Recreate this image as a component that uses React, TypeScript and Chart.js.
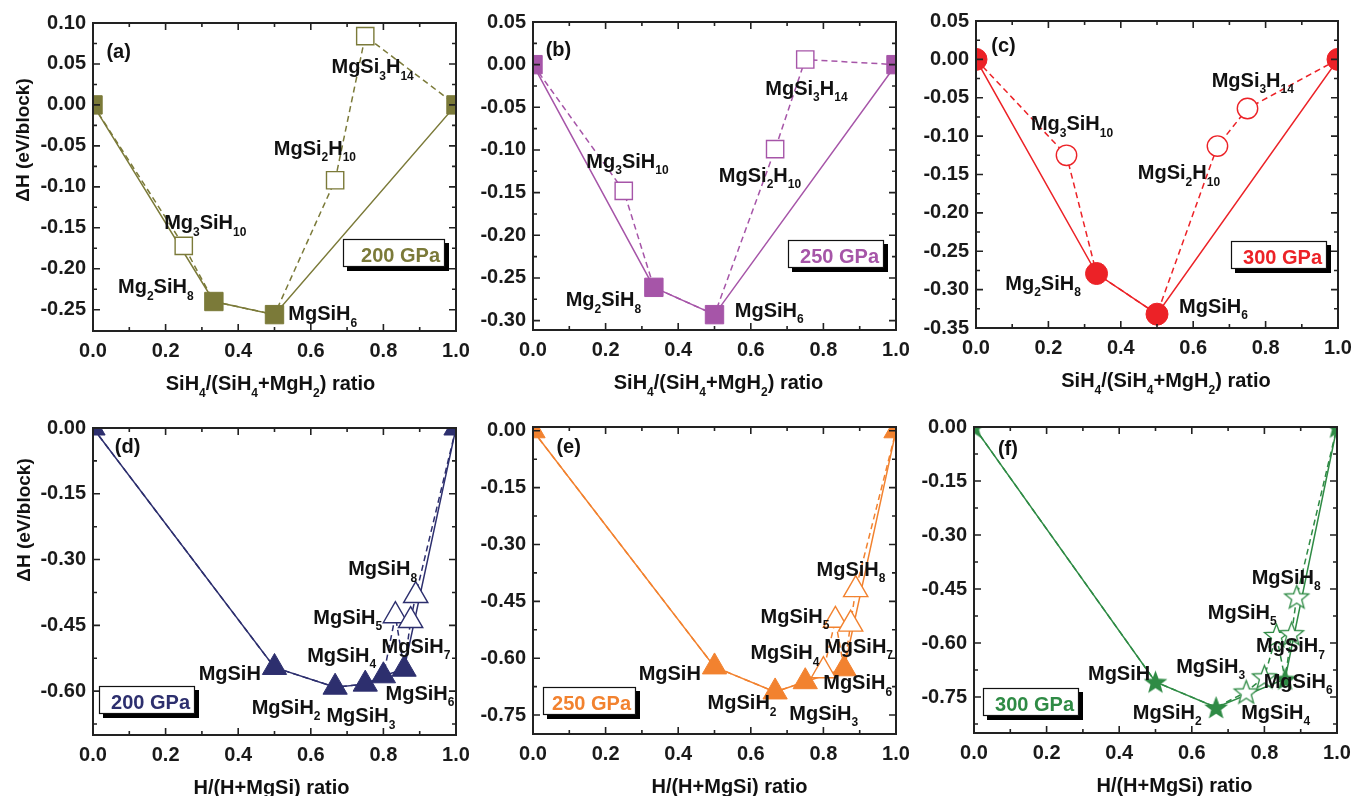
import React, { useEffect, useRef } from 'react';
import { Chart, registerables } from 'chart.js';
Chart.register(...registerables);

const FONT = '"Liberation Sans", Arial, Helvetica, sans-serif';

// shared x ticks
const xRatioTicks = [0, 0.2, 0.4, 0.6, 0.8, 1.0];

// (a) 200 GPa — SiH4/(SiH4+MgH2)
const aStableX = [0, 0.333, 0.5, 1];
const aStableY = [0, -0.240, -0.256, 0];
const aMetaX = [0.25, 0.667, 0.75];
const aMetaY = [-0.172, -0.092, 0.084];
const aYTicks = [0.1, 0.05, 0, -0.05, -0.1, -0.15, -0.2, -0.25];

// (b) 250 GPa
const bStableX = [0, 0.333, 0.5, 1];
const bStableY = [0, -0.261, -0.293, 0];
const bMetaX = [0.25, 0.667, 0.75];
const bMetaY = [-0.148, -0.099, 0.006];
const bYTicks = [0.05, 0, -0.05, -0.1, -0.15, -0.2, -0.25, -0.3];

// (c) 300 GPa
const cStableX = [0, 0.333, 0.5, 1];
const cStableY = [0, -0.279, -0.332, 0];
const cMetaX = [0.25, 0.667, 0.75];
const cMetaY = [-0.125, -0.113, -0.064];
const cYTicks = [0.05, 0, -0.05, -0.1, -0.15, -0.2, -0.25, -0.3, -0.35];

// (d) 200 GPa — H/(H+MgSi)
const dStableX = [0, 0.5, 0.667, 0.75, 0.8, 0.857, 1];
const dStableY = [0, -0.546, -0.591, -0.584, -0.565, -0.550, 0];
const dMetaX = [0.833, 0.875, 0.889];
const dMetaY = [-0.428, -0.439, -0.382];
const dYTicks = [0, -0.15, -0.3, -0.45, -0.6];

// (e) 250 GPa
const eStableX = [0, 0.5, 0.667, 0.75, 0.857, 1];
const eStableY = [0, -0.623, -0.689, -0.662, -0.628, 0];
const eMetaX = [0.8, 0.833, 0.875, 0.889];
const eMetaY = [-0.633, -0.500, -0.510, -0.419];
const eYTicks = [0, -0.15, -0.3, -0.45, -0.6, -0.75];

// (f) 300 GPa
const fStableX = [0, 0.5, 0.667, 0.857, 1];
const fStableY = [0, -0.708, -0.779, -0.700, 0];
const fMetaX = [0.75, 0.8, 0.833, 0.875, 0.889];
const fMetaY = [-0.736, -0.694, -0.579, -0.574, -0.472];
const fYTicks = [0, -0.15, -0.3, -0.45, -0.6, -0.75];

// compound label texts (sub-scripts in _{})
const siLabels = ['MgSi_{3}H_{14}', 'MgSi_{2}H_{10}', 'Mg_{3}SiH_{10}', 'Mg_{2}SiH_{8}', 'MgSiH_{6}'];
const hLabels = ['MgSiH_{8}', 'MgSiH_{5}', 'MgSiH_{7}', 'MgSiH_{4}', 'MgSiH', 'MgSiH_{6}', 'MgSiH_{2}', 'MgSiH_{3}'];
const fLabels = ['MgSiH_{8}', 'MgSiH_{5}', 'MgSiH_{7}', 'MgSiH_{3}', 'MgSiH', 'MgSiH_{6}', 'MgSiH_{2}', 'MgSiH_{4}'];

type Marker = 'rect' | 'circle' | 'triangle' | 'star';
interface PanelCfg {
  letter: string; pressure: string; color: string; marker: Marker;
  stableX: number[]; stableY: number[]; metaX: number[]; metaY: number[];
  yTicks: number[]; yMin: number; yMax: number;
  area: { left: number; top: number; width: number; height: number };
  labels: string[]; labelPos: [number, number][];
  letterPos: [number, number]; boxPos: [number, number]; boxW: number;
  xTitle: string; xTitleDx: number;
  yTitle?: { dx: number; cy: number };
}

const SI_TITLE = 'SiH_{4}/(SiH_{4}+MgH_{2}) ratio';
const H_TITLE = 'H/(H+MgSi) ratio';

const panels: PanelCfg[] = [
  {
    letter: '(a)', pressure: '200 GPa', color: '#7b7a39', marker: 'rect',
    stableX: aStableX, stableY: aStableY, metaX: aMetaX, metaY: aMetaY,
    yTicks: aYTicks, yMin: -0.276, yMax: 0.1,
    area: { left: 93, top: 23, width: 363, height: 308 },
    labels: siLabels,
    labelPos: [[0.657, 0.0384], [0.498, -0.0609], [0.196, -0.152], [0.069, -0.2297], [0.538, -0.263]],
    letterPos: [0.037, 0.0567], boxPos: [0.688, -0.1638], boxW: 102,
    xTitle: SI_TITLE, xTitleDx: -4, yTitle: { dx: -64.5, cy: 117 },
  },
  {
    letter: '(b)', pressure: '250 GPa', color: '#a655a8', marker: 'rect',
    stableX: bStableX, stableY: bStableY, metaX: bMetaX, metaY: bMetaY,
    yTicks: bYTicks, yMin: -0.311, yMax: 0.05,
    area: { left: 533, top: 22, width: 363, height: 308 },
    labels: siLabels,
    labelPos: [[0.640, -0.0351], [0.512, -0.137], [0.147, -0.1208], [0.090, -0.283], [0.556, -0.2956]],
    letterPos: [0.035, 0.0105], boxPos: [0.702, -0.205], boxW: 96,
    xTitle: SI_TITLE, xTitleDx: 4,
  },
  {
    letter: '(c)', pressure: '300 GPa', color: '#ec2227', marker: 'circle',
    stableX: cStableX, stableY: cStableY, metaX: cMetaX, metaY: cMetaY,
    yTicks: cYTicks, yMin: -0.35, yMax: 0.05,
    area: { left: 976, top: 21, width: 362, height: 307 },
    labels: siLabels,
    labelPos: [[0.651, -0.0357], [0.447, -0.1565], [0.1517, -0.0922], [0.081, -0.300], [0.561, -0.330]],
    letterPos: [0.0422, 0.0099], boxPos: [0.704, -0.2366], boxW: 96,
    xTitle: SI_TITLE, xTitleDx: 9,
  },
  {
    letter: '(d)', pressure: '200 GPa', color: '#2d2f6e', marker: 'triangle',
    stableX: dStableX, stableY: dStableY, metaX: dMetaX, metaY: dMetaY,
    yTicks: dYTicks, yMin: -0.70, yMax: 0,
    area: { left: 93, top: 428, width: 363, height: 307 },
    labels: hLabels,
    labelPos: [[0.703, -0.336], [0.607, -0.446], [0.795, -0.512], [0.590, -0.533], [0.291, -0.575], [0.806, -0.6195], [0.437, -0.652], [0.643, -0.671]],
    letterPos: [0.060, -0.0575], boxPos: [0.0165, -0.589], boxW: 96,
    xTitle: H_TITLE, xTitleDx: -3, yTitle: { dx: -63, cy: 92 },
  },
  {
    letter: '(e)', pressure: '250 GPa', color: '#f2822f', marker: 'triangle',
    stableX: eStableX, stableY: eStableY, metaX: eMetaX, metaY: eMetaY,
    yTicks: eYTicks, yMin: -0.80, yMax: 0.01,
    area: { left: 533, top: 427, width: 363, height: 307 },
    labels: hLabels,
    labelPos: [[0.781, -0.383], [0.627, -0.506], [0.802, -0.585], [0.599, -0.603], [0.291, -0.657], [0.7995, -0.682], [0.481, -0.7345], [0.706, -0.763]],
    letterPos: [0.0645, -0.0596], boxPos: [0.0276, -0.6765], boxW: 93,
    xTitle: H_TITLE, xTitleDx: 15,
  },
  {
    letter: '(f)', pressure: '300 GPa', color: '#2f8b45', marker: 'star',
    stableX: fStableX, stableY: fStableY, metaX: fMetaX, metaY: fMetaY,
    yTicks: fYTicks, yMin: -0.85, yMax: 0,
    area: { left: 974, top: 427, width: 363, height: 306 },
    labels: fLabels,
    labelPos: [[0.765, -0.435], [0.644, -0.532], [0.777, -0.625], [0.557, -0.683], [0.314, -0.704], [0.798, -0.724], [0.4375, -0.810], [0.736, -0.810]],
    letterPos: [0.066, -0.0786], boxPos: [0.0248, -0.725], boxW: 96,
    xTitle: H_TITLE, xTitleDx: 19,
  },
];

const PAD_L = 93, PAD_T = 23, PAD_R = 25, PAD_B = 70;

function parseRich(text: string) {
  const parts: { t: string; sub: boolean }[] = [];
  const re = /_\{([^}]*)\}/g;
  let last = 0; let m: RegExpExecArray | null;
  while ((m = re.exec(text))) {
    if (m.index > last) parts.push({ t: text.slice(last, m.index), sub: false });
    parts.push({ t: m[1], sub: true });
    last = re.lastIndex;
  }
  if (last < text.length) parts.push({ t: text.slice(last), sub: false });
  return parts;
}

function drawRich(ctx: CanvasRenderingContext2D, text: string, x: number, y: number, size: number, subSize: number, color: string, align: 'left' | 'center') {
  const parts = parseRich(text);
  const mf = `bold ${size}px ${FONT}`;
  const sf = `bold ${subSize}px ${FONT}`;
  let w = 0;
  const ws = parts.map(p => { ctx.font = p.sub ? sf : mf; const ww = ctx.measureText(p.t).width; w += ww; return ww; });
  let cx = align === 'center' ? x - w / 2 : x;
  ctx.fillStyle = color;
  ctx.textAlign = 'left';
  ctx.textBaseline = 'alphabetic';
  parts.forEach((p, i) => {
    ctx.font = p.sub ? sf : mf;
    ctx.fillText(p.t, cx, p.sub ? y + 6.5 : y);
    cx += ws[i];
  });
}

function makeStar(color: string, filled: boolean, R: number) {
  const size = Math.ceil(R * 2 + 4);
  const c = document.createElement('canvas');
  c.width = size; c.height = size;
  const g = c.getContext('2d')!;
  const cx = size / 2, cy = size / 2 + 1;
  const r = R * 0.42;
  g.beginPath();
  for (let i = 0; i < 10; i++) {
    const ang = -Math.PI / 2 + (i * Math.PI) / 5;
    const rr = i % 2 === 0 ? R : r;
    g.lineTo(cx + rr * Math.cos(ang), cy + rr * Math.sin(ang));
  }
  g.closePath();
  if (filled) { g.fillStyle = color; g.fill(); }
  else { g.fillStyle = '#fff'; g.fill(); g.strokeStyle = color; g.lineWidth = 1.3; g.stroke(); }
  return c;
}

function minorValues(ticks: number[], min: number, max: number) {
  const sorted = [...ticks].sort((a, b) => a - b);
  const out: number[] = [];
  for (let i = 0; i < sorted.length - 1; i++) out.push((sorted[i] + sorted[i + 1]) / 2);
  if (sorted.length > 1) {
    const h = (sorted[1] - sorted[0]) / 2;
    const lo = sorted[0] - h, hi = sorted[sorted.length - 1] + h;
    if (lo > min + 0.005) out.push(lo);
    if (hi < max - 0.005) out.push(hi);
  }
  return out;
}

function PanelChart({ p }: { p: PanelCfg }) {
  const ref = useRef<HTMLCanvasElement>(null);
  const W = p.area.width + PAD_L + PAD_R;
  const H = p.area.height + PAD_T + PAD_B;
  useEffect(() => {
    const canvas = ref.current!;
    const pts = (xs: number[], ys: number[]) => xs.map((x, i) => ({ x, y: ys[i] }));
    const stable = pts(p.stableX, p.stableY);
    const meta = pts(p.metaX, p.metaY);
    const all = [...stable, ...meta].sort((a, b) => a.x - b.x);

    let filledStyle: any = p.marker, openStyle: any = p.marker;
    let rF = 13, rO = 12.2;
    if (p.marker === 'circle') { rF = 11; rO = 10.2; }
    if (p.marker === 'triangle') { rF = 14; rO = 14; }
    if (p.marker === 'star') { filledStyle = makeStar(p.color, true, 12.5); openStyle = makeStar(p.color, false, 12.5); rF = 12; rO = 12; }

    const decor = {
      id: 'decor',
      afterDraw(chart: any) {
        const ctx: CanvasRenderingContext2D = chart.ctx;
        const { left, right, top, bottom } = chart.chartArea;
        const xs = chart.scales.x, ys = chart.scales.y;
        ctx.save();
        // frame
        ctx.strokeStyle = '#222';
        ctx.lineWidth = 2;
        ctx.strokeRect(left, top, right - left, bottom - top);
        ctx.lineWidth = 1.6;
        ctx.beginPath();
        const xMinor = minorValues(xRatioTicks, 0, 1);
        xRatioTicks.forEach(v => { const px = xs.getPixelForValue(v); ctx.moveTo(px, bottom); ctx.lineTo(px, bottom - 7); ctx.moveTo(px, top); ctx.lineTo(px, top + 7); });
        xMinor.forEach(v => { const px = xs.getPixelForValue(v); ctx.moveTo(px, bottom); ctx.lineTo(px, bottom - 4); ctx.moveTo(px, top); ctx.lineTo(px, top + 4); });
        const yMinor = minorValues(p.yTicks, p.yMin, p.yMax);
        p.yTicks.forEach(v => { const py = ys.getPixelForValue(v); ctx.moveTo(left, py); ctx.lineTo(left + 7, py); ctx.moveTo(right, py); ctx.lineTo(right - 7, py); });
        yMinor.forEach(v => { const py = ys.getPixelForValue(v); ctx.moveTo(left, py); ctx.lineTo(left + 4, py); ctx.moveTo(right, py); ctx.lineTo(right - 4, py); });
        ctx.stroke();

        // compound labels
        p.labels.forEach((t, i) => {
          const [lx, ly] = p.labelPos[i];
          drawRich(ctx, t, xs.getPixelForValue(lx), ys.getPixelForValue(ly), 20, 12, '#111', 'left');
        });
        // panel letter
        ctx.font = `bold 20px ${FONT}`;
        ctx.fillStyle = '#111';
        ctx.textAlign = 'left';
        ctx.textBaseline = 'alphabetic';
        ctx.fillText(p.letter, xs.getPixelForValue(p.letterPos[0]), ys.getPixelForValue(p.letterPos[1]));

        // pressure box
        const bx = Math.round(xs.getPixelForValue(p.boxPos[0]));
        const by = Math.round(ys.getPixelForValue(p.boxPos[1]));
        const bw = p.boxW, bh = 28;
        ctx.fillStyle = '#000';
        ctx.fillRect(bx + 4, by + 4, bw, bh);
        ctx.fillStyle = '#fff';
        ctx.fillRect(bx, by, bw, bh);
        ctx.strokeStyle = '#111';
        ctx.lineWidth = 1.2;
        ctx.strokeRect(bx + 0.5, by + 0.5, bw - 1, bh - 1);
        ctx.font = `bold 20px ${FONT}`;
        ctx.fillStyle = p.color;
        ctx.textAlign = 'right';
        ctx.fillText(p.pressure, bx + bw - 5, by + 23);

        // x title
        drawRich(ctx, p.xTitle, (left + right) / 2 + p.xTitleDx, bottom + 59, 20, 12, '#111', 'center');
        // y title
        if (p.yTitle) {
          ctx.translate(left + p.yTitle.dx, top + p.yTitle.cy);
          ctx.rotate(-Math.PI / 2);
          drawRich(ctx, '\u0394H (eV/block)', 0, 0, 19, 12, '#111', 'center');
        }
        ctx.restore();
      },
    };

    const chart = new Chart(canvas, {
      type: 'scatter',
      data: {
        datasets: [
          {
            label: 'metastable', data: meta, showLine: false,
            pointStyle: openStyle, pointRadius: rO, pointHoverRadius: rO,
            pointBackgroundColor: '#ffffff', pointBorderColor: p.color, pointBorderWidth: 1.4,
            clip: 0,
          } as any,
          {
            label: 'stable', data: stable, showLine: true,
            borderColor: p.color, borderWidth: 1.5,
            pointStyle: filledStyle, pointRadius: rF, pointHoverRadius: rF,
            pointBackgroundColor: p.color, pointBorderColor: p.color, pointBorderWidth: 1,
            clip: 0,
          } as any,
          {
            label: 'all', data: all, showLine: true,
            borderColor: p.color, borderWidth: 1.5, borderDash: [6, 4],
            pointRadius: 0, pointHoverRadius: 0,
            clip: 0,
          } as any,
        ],
      },
      options: {
        responsive: false,
        animation: false,
        devicePixelRatio: 1,
        events: [],
        layout: { padding: { left: 0, top: PAD_T, right: PAD_R, bottom: 0 } },
        plugins: { legend: { display: false }, tooltip: { enabled: false } },
        scales: {
          x: {
            type: 'linear', min: 0, max: 1,
            grid: { display: false, drawTicks: false },
            border: { display: false },
            afterBuildTicks: (s: any) => { s.ticks = xRatioTicks.map(v => ({ value: v })); },
            afterFit: (s: any) => { s.height = PAD_B; },
            ticks: {
              autoSkip: false, maxRotation: 0, padding: 8, color: '#1a1a1a',
              font: { family: FONT, size: 20, weight: 'bold' },
              callback: (v: any) => Number(v).toFixed(1),
            },
          },
          y: {
            type: 'linear', min: p.yMin, max: p.yMax,
            grid: { display: false, drawTicks: false },
            border: { display: false },
            afterBuildTicks: (s: any) => { s.ticks = p.yTicks.map(v => ({ value: v })); },
            afterFit: (s: any) => { s.width = PAD_L; },
            ticks: {
              autoSkip: false, padding: 7, color: '#1a1a1a',
              font: { family: FONT, size: 20, weight: 'bold' },
              callback: (v: any) => Number(v).toFixed(2),
            },
          },
        },
      } as any,
      plugins: [decor],
    });
    const ca = chart.chartArea;
    canvas.style.left = `${p.area.left - ca.left}px`;
    canvas.style.top = `${p.area.top - ca.top}px`;
    return () => chart.destroy();
  }, [p]);
  return (
    <canvas
      ref={ref}
      width={W}
      height={H}
      style={{ position: 'absolute', left: p.area.left - PAD_L, top: p.area.top - PAD_T, width: W, height: H }}
    />
  );
}

export default function App() {
  return (
    <div style={{ position: 'absolute', left: 0, top: 0, width: 1355, height: 796, overflow: 'hidden', background: '#fff' }}>
      {panels.map((p, i) => <PanelChart key={i} p={p} />)}
    </div>
  );
}
